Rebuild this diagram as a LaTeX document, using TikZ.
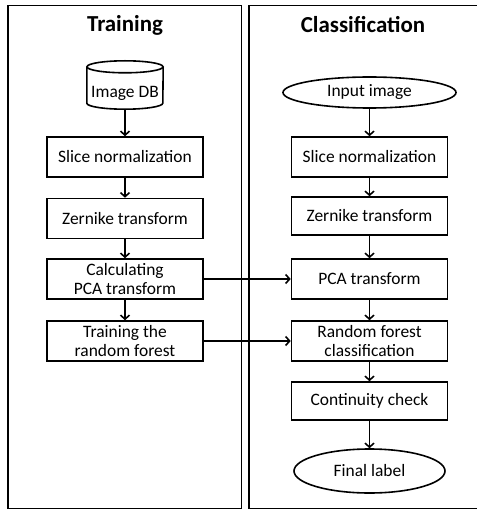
\documentclass[tikz,border=0pt]{standalone}
\usepackage{fontspec}
\setmainfont{Carlito}
\usetikzlibrary{shapes.geometric,arrows.meta}
\begin{document}
\begin{tikzpicture}[x=1bp,y=-1bp,
  panel/.style={draw,line width=1.6bp},
  stepbox/.style={draw,line width=1.6bp,minimum width=156bp,minimum height=40bp,align=center,inner sep=1bp,font=\fontsize{17.5}{19.5}\selectfont},
  ovalbox/.style={draw,ellipse,line width=1.6bp,inner sep=0pt,font=\fontsize{17.5}{19.5}\selectfont},
  dbshape/.style={minimum width=76bp,minimum height=48bp,inner sep=0pt,font=\fontsize{17.5}{19.5}\selectfont},
  dbline/.style={line width=1.6bp},
  title/.style={font=\fontsize{23}{26}\selectfont\bfseries},
  conn/.style={line width=1.6bp,-{Straight Barb[length=4bp,width=9bp,line width=1.6bp]}}
]
\useasboundingbox (0,0) rectangle (477,510);
\begin{scope}
\clip (0,0) rectangle (477,510);
\draw[panel] (8,5.5) rectangle (241.5,508.5);
\draw[panel] (249,5.5) rectangle (490,508.5);
\end{scope}
\node[title] (tt) at (125,25) {Training};
\node[title] (tc) at (363,25) {Classification};
% training
\node[dbshape] (db) at (125,85) {\raisebox{-7bp}[12bp][0pt]{Image DB}};
\draw[dbline] ([yshift=-6bp]db.north) ellipse [x radius=38bp, y radius=6bp];
\draw[dbline] ([yshift=-6bp]db.north west) -- ([yshift=6bp]db.south west)
  arc[start angle=180, end angle=360, x radius=38bp, y radius=6bp]
  -- ([yshift=-6bp]db.north east);
\node[stepbox] (t1) at (125,157) {Slice normalization};
\node[stepbox] (t2) at (125,218.5) {Zernike transform};
\node[stepbox] (t3) at (125,279) {Calculating\\PCA transform};
\node[stepbox] (t4) at (125,341) {Training the\\random forest};
% classification
\node[ovalbox,minimum width=173bp,minimum height=31bp] (c0) at (369.5,92.5) {Input image};
\node[stepbox] (c1) at (369.5,157) {Slice normalization};
\node[stepbox,minimum height=38bp] (c2) at (369.5,216) {Zernike transform};
\node[stepbox] (c3) at (369.5,279) {PCA transform};
\node[stepbox] (c4) at (369.5,341) {Random forest\\classification};
\node[stepbox,minimum height=38bp] (c5) at (369.5,401) {Continuity check};
\node[ovalbox,minimum width=151bp,minimum height=44bp] (c6) at (369.5,471) {Final label};
\draw[conn] (db) -- (t1);
\draw[conn] (t1) -- (t2);
\draw[conn] (t2) -- (t3);
\draw[conn] (t3) -- (t4);
\draw[conn] (c0) -- (c1);
\draw[conn] (c1) -- (c2);
\draw[conn] (c2) -- (c3);
\draw[conn] (c3) -- (c4);
\draw[conn] (c4) -- (c5);
\draw[conn] (c5) -- (c6);
\draw[conn] (t3) -- (c3);
\draw[conn] (t4) -- (c4);
\end{tikzpicture}
\end{document}
